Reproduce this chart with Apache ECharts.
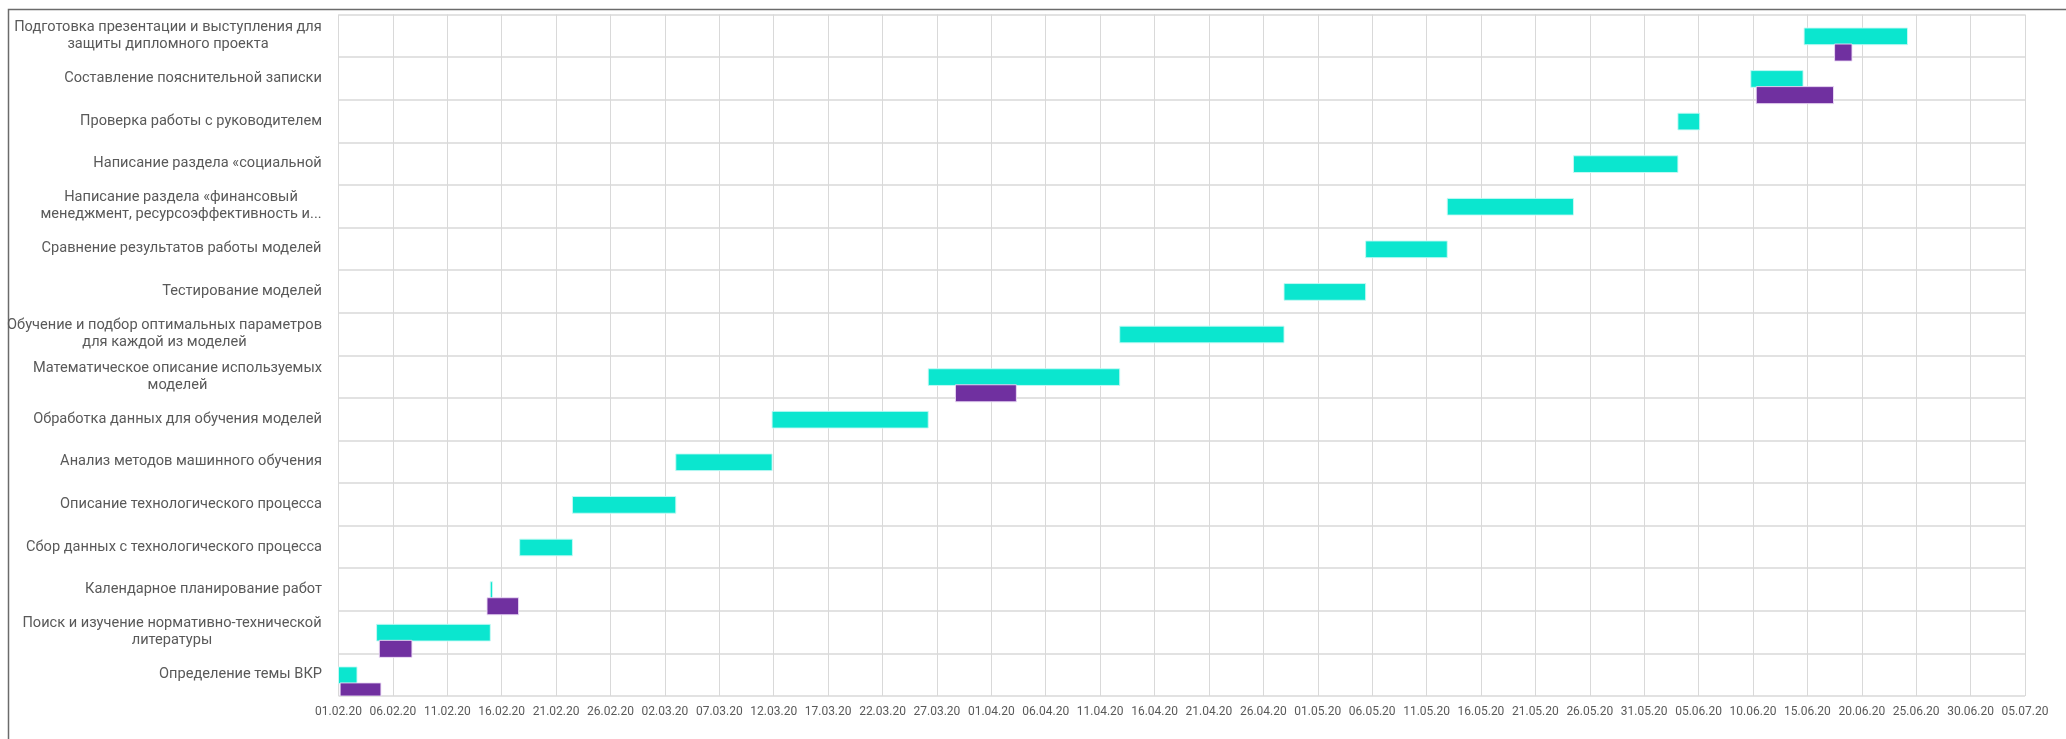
<!DOCTYPE html>
<html lang="ru">
<head>
<meta charset="utf-8">
<title>График выполнения ВКР</title>
<script src="https://cdn.jsdelivr.net/npm/echarts@6/dist/echarts.min.js"></script>
<style>
  html, body { margin: 0; padding: 0; background: #ffffff; }
  #chart { width: 2066px; height: 739px; }
</style>
</head>
<body>
<div id="chart"></div>
<script>
// Tasks, bottom to top (category axis runs upwards)
const categories = [
  'Определение темы ВКР',
  'Поиск и изучение нормативно-технической\nлитературы',
  'Календарное планирование работ',
  'Сбор данных с технологического процесса',
  'Описание технологического процесса',
  'Анализ методов машинного обучения',
  'Обработка данных для обучения моделей',
  'Математическое описание используемых\nмоделей',
  'Обучение и подбор оптимальных параметров\nдля каждой из моделей',
  'Тестирование моделей',
  'Сравнение результатов работы моделей',
  'Написание раздела «финансовый\nменеджмент, ресурсоэффективность и...',
  'Написание раздела «социальной',
  'Проверка работы с руководителем',
  'Составление пояснительной записки',
  'Подготовка презентации и выступления для\nзащиты дипломного проекта'
];

// Days counted from 01.02.2020
const planStart = [0, 3.5, 13.95, 16.65, 21.5, 31.0, 39.85, 54.2, 71.8, 86.9, 94.4, 101.9, 113.5, 123.1, 129.8, 134.7];
const planEnd   = [1.7, 13.95, 14.15, 21.5, 31.0, 39.85, 54.2, 71.8, 86.9, 94.4, 101.9, 113.5, 123.1, 125.1, 134.6, 144.2];

const factStart = [0.15, 3.75, 13.65, null, null, null, null, 56.7, null, null, null, null, null, null, 130.3, 137.5];
const factEnd   = [3.9, 6.75, 16.55, null, null, null, null, 62.3, null, null, null, null, null, null, 137.4, 139.1];

// Date ticks, one every 5 days
const tickLabels = [
  '01.02.20', '06.02.20', '11.02.20', '16.02.20', '21.02.20', '26.02.20', '02.03.20', '07.03.20',
  '12.03.20', '17.03.20', '22.03.20', '27.03.20', '01.04.20', '06.04.20', '11.04.20', '16.04.20',
  '21.04.20', '26.04.20', '01.05.20', '06.05.20', '11.05.20', '16.05.20', '21.05.20', '26.05.20',
  '31.05.20', '05.06.20', '10.06.20', '15.06.20', '20.06.20', '25.06.20', '30.06.20', '05.07.20'
];

const FONT = "Roboto, 'Noto Sans', sans-serif";
const LABEL_SIZE = 14.6;
const CYAN = '#0be6cf';
const PURPLE = '#7030a0';

// Multi-line task names are centred line by line, the block itself is right-aligned
const measureCtx = document.createElement('canvas').getContext('2d');
measureCtx.font = LABEL_SIZE + 'px ' + FONT;
const rich = {};
categories.forEach(function (name, i) {
  const lines = name.split('\n');
  const w = Math.max.apply(null, lines.map(function (l) { return measureCtx.measureText(l).width; }));
  rich['c' + i] = {
    width: Math.ceil(w) + 1,
    align: 'center',
    fontSize: LABEL_SIZE,
    fontFamily: FONT,
    color: '#595959',
    lineHeight: 17
  };
});

function toItems(starts, ends) {
  const out = [];
  starts.forEach(function (s, i) {
    if (s !== null && ends[i] !== null) out.push([i, s, ends[i]]);
  });
  return out;
}

// Gantt bar: offset and thickness are given as fractions of the category band
function ganttBar(offset, thickness, color, edge) {
  return function (params, api) {
    const cat = api.value(0);
    const a = api.coord([api.value(1), cat]);
    const b = api.coord([api.value(2), cat]);
    const band = api.size([0, 1])[1];
    const cs = params.coordSys;
    const shape = echarts.graphic.clipRectByRect(
      { x: a[0], y: a[1] + offset * band, width: Math.max(b[0] - a[0], 1), height: thickness * band },
      { x: cs.x, y: cs.y, width: cs.width, height: cs.height }
    );
    if (!shape) return null;
    return {
      type: 'rect',
      shape: shape,
      style: { fill: color, stroke: edge, lineWidth: 1 }
    };
  };
}

const chart = echarts.init(document.getElementById('chart'), null, { renderer: 'canvas' });

chart.setOption({
  animation: false,
  backgroundColor: '#ffffff',
  grid: { left: 338.5, right: 41, top: 14.5, bottom: 43, containLabel: false, outerBoundsMode: 'none' },
  xAxis: {
    type: 'value',
    min: 0,
    max: 155,
    interval: 5,
    axisLine: { show: false },
    axisTick: { show: false },
    splitLine: { show: true, lineStyle: { color: '#d9d9d9', width: 1 } },
    axisLabel: {
      margin: 10,
      color: '#595959',
      fontSize: 12,
      fontFamily: FONT,
      formatter: function (v) { return tickLabels[Math.round(v / 5)]; }
    }
  },
  yAxis: {
    type: 'category',
    data: categories,
    boundaryGap: true,
    axisLine: { show: false },
    axisTick: { show: false },
    splitLine: { show: true, lineStyle: { color: '#d9d9d9', width: 1.5 } },
    axisLabel: {
      margin: 16,
      align: 'right',
      interval: 0,
      formatter: function (v, i) {
        return v.split('\n').map(function (l) { return '{c' + i + '|' + l + '}'; }).join('\n');
      },
      rich: rich
    }
  },
  series: [
    {
      name: 'План',
      type: 'custom',
      clip: true,
      renderItem: ganttBar(-0.183, 0.392, CYAN, 'rgba(200,250,245,0.9)'),
      encode: { x: [1, 2], y: 0 },
      data: toItems(planStart, planEnd)
    },
    {
      name: 'Факт',
      type: 'custom',
      clip: true,
      renderItem: ganttBar(0.193, 0.4, PURPLE, 'rgba(235,220,245,0.9)'),
      encode: { x: [1, 2], y: 0 },
      data: toItems(factStart, factEnd)
    }
  ],
  graphic: [
    {
      type: 'polyline',
      silent: true,
      shape: { points: [[8.5, 739], [8.5, 9.5], [2066, 9.5]] },
      style: { stroke: '#6b6b6b', lineWidth: 1.5, fill: null }
    }
  ]
});
</script>
</body>
</html>
